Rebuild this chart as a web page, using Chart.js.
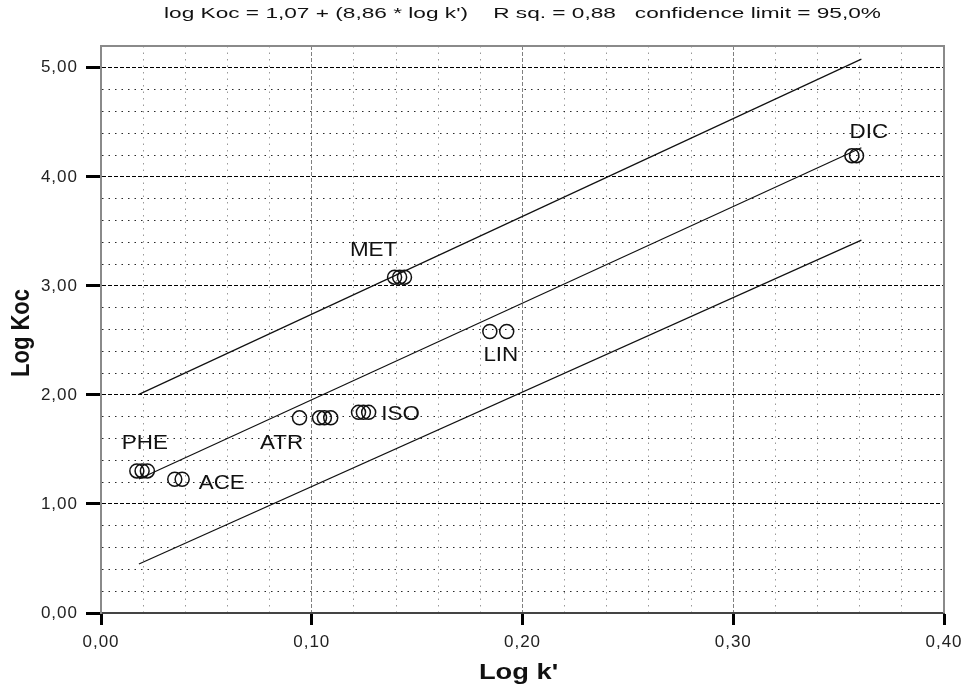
<!DOCTYPE html>
<html><head><meta charset="utf-8">
<script src="https://cdn.jsdelivr.net/npm/chart.js@4/dist/chart.umd.min.js"></script>
<style>html,body{margin:0;padding:0;background:#fff;}#wrap{width:962px;height:686px;position:relative;}</style>
</head><body><div id="wrap"><canvas id="c" width="962" height="686"></canvas></div>
<script>
// ---- data ----
const titleText = "log Koc = 1,07 + (8,86 * log k')    R sq. = 0,88   confidence limit = 95,0%";
const xAxisTitle = "Log k'";
const yAxisTitle = "Log Koc";
const compounds = ['PHE', 'ACE', 'ATR', 'ISO', 'MET', 'LIN', 'DIC'];
const pointGroup = ['PHE','PHE','PHE','ACE','ACE','ATR','ATR','ATR','ATR','ISO','ISO','ISO','MET','MET','MET','LIN','LIN','DIC','DIC'];
const logK   = [0.0170,0.0195,0.0220, 0.0350,0.0385, 0.0942,0.1037,0.1060,0.1090, 0.1222,0.1245,0.1270, 0.1393,0.1417,0.1440, 0.1845,0.1925, 0.3563,0.3585];
const logKoc = [1.303,1.303,1.303, 1.227,1.227, 1.790,1.790,1.790,1.790, 1.840,1.840,1.840, 3.080,3.080,3.080, 2.582,2.582, 4.194,4.194];
const lineX  = [0.018, 0.3608];
const fitY   = [1.229, 4.267];
const upperY = [2.005, 5.080];
const lowerY = [0.449, 3.420];
const xMajorTicks = [0, 0.1, 0.2, 0.3, 0.4];
const yMajorTicks = [0, 1, 2, 3, 4, 5];
</script>
<script>
const FONT = "'Liberation Sans', Arial, sans-serif";
const fmt = v => v.toFixed(2).replace('.', ',');
const near = (a, b) => Math.abs(a - b) < 1e-6;
const isMajorX = v => xMajorTicks.some(t => near(t, v));
const isMajorY = v => yMajorTicks.some(t => near(t, v));

const pts = logK.map((x, i) => ({x, y: logKoc[i]}));
const mkLine = ys => lineX.map((x, i) => ({x, y: ys[i]}));

// label placement (pixel offsets from first point of each group)
const labelOffsets = {PHE:[8,-27], ACE:[47,4], ATR:[-18,26], ISO:[42,2], MET:[-21,-27], LIN:[11,24], DIC:[17,-23]};

function stretchText(ctx, text, x, y, sx, rot) {
  ctx.save();
  ctx.translate(x, y);
  ctx.scale(sx, 1);
  if (rot) ctx.rotate(rot);
  ctx.fillText(text, 0, 0);
  ctx.restore();
}

const deco = {
  id: 'deco',
  beforeDraw(chart) { chart.ctx.letterSpacing = '1px'; },
  beforeDatasetsDraw(chart) {
    const {ctx, chartArea: a} = chart;
    ctx.save();
    ctx.strokeStyle = '#8a8a8a';
    ctx.lineWidth = 2;
    ctx.beginPath();
    ctx.moveTo(a.left, a.top); ctx.lineTo(a.right, a.top); ctx.lineTo(a.right, a.bottom);
    ctx.stroke();
    ctx.restore();
  },
  afterDraw(chart) {
    const {ctx, chartArea: a, scales} = chart;
    ctx.save();
    ctx.fillStyle = '#111';
    ctx.letterSpacing = '0px';
    ctx.textAlign = 'center';
    ctx.textBaseline = 'middle';
    ctx.font = '20px ' + FONT;
    compounds.forEach(c => {
      const i = pointGroup.indexOf(c);
      const px = scales.x.getPixelForValue(logK[i]);
      const py = scales.y.getPixelForValue(logKoc[i]);
      const o = labelOffsets[c];
      stretchText(ctx, c, px + o[0], py + o[1], 1.12, 0);
    });
    ctx.font = '15px ' + FONT;
    stretchText(ctx, titleText, (a.left + a.right) / 2, 14, 1.51, 0);
    ctx.font = 'bold 22px ' + FONT;
    stretchText(ctx, xAxisTitle, (a.left + a.right) / 2 - 4, 673, 1.24, 0);
    stretchText(ctx, yAxisTitle, 22, 333, 1.15, -Math.PI / 2);
    ctx.restore();
  }
};

new Chart(document.getElementById('c'), {
  type: 'scatter',
  data: {
    datasets: [
      {data: pts, showLine: false, pointStyle: 'circle', pointRadius: 7, pointHoverRadius: 7,
       borderColor: '#111', backgroundColor: 'rgba(0,0,0,0)', pointBorderWidth: 1.5, order: 0},
      {data: mkLine(fitY), showLine: true, pointRadius: 0, borderColor: '#111', borderWidth: 1.2, order: 1},
      {data: mkLine(upperY), showLine: true, pointRadius: 0, borderColor: '#111', borderWidth: 1.2, order: 1},
      {data: mkLine(lowerY), showLine: true, pointRadius: 0, borderColor: '#111', borderWidth: 1.2, order: 1}
    ]
  },
  options: {
    responsive: false,
    animation: false,
    devicePixelRatio: 1,
    layout: {padding: {top: 46, right: 18, left: 0, bottom: 0}},
    plugins: {legend: {display: false}, tooltip: {enabled: false}, title: {display: false}},
    scales: {
      x: {
        type: 'linear', min: 0, max: 0.4,
        afterFit: s => { s.height = 73; s.paddingLeft = 0; s.paddingRight = 0; },
        ticks: {stepSize: 0.02, autoSkip: false, maxRotation: 0, minRotation: 0, padding: 7,
                color: '#222', font: {family: FONT, size: 17},
                callback: v => isMajorX(v) ? fmt(v) : ''},
        grid: {
          lineWidth: 1,
          color: c => { const v = c.tick ? c.tick.value : 0; if (near(v, 0) || near(v, 0.4)) return 'rgba(0,0,0,0)'; return isMajorX(v) ? '#808080' : '#999'; },
          tickLength: 12, tickWidth: 3,
          tickColor: c => (c.tick && isMajorX(c.tick.value)) ? '#000' : 'rgba(0,0,0,0)'
        },
        border: {color: '#444', width: 2,
                 dash: c => c.tick ? (isMajorX(c.tick.value) ? [4, 2] : [1.5, 5]) : []}
      },
      y: {
        type: 'linear', min: 0, max: 5.2,
        afterFit: s => { s.width = 101; s.paddingTop = 0; s.paddingBottom = 0; },
        ticks: {stepSize: 0.2, autoSkip: false, padding: 8,
                color: '#222', font: {family: FONT, size: 17},
                callback: v => isMajorY(v) ? fmt(v) : ''},
        grid: {
          lineWidth: 1,
          color: c => { const v = c.tick ? c.tick.value : 0; if (near(v, 0) || near(v, 5.2)) return 'rgba(0,0,0,0)'; return isMajorY(v) ? '#000' : '#2a2a2a'; },
          tickLength: 15, tickWidth: 3,
          tickColor: c => (c.tick && isMajorY(c.tick.value)) ? '#000' : 'rgba(0,0,0,0)'
        },
        border: {color: '#8a8a8a', width: 2,
                 dash: c => c.tick ? (isMajorY(c.tick.value) ? [4, 2] : [1.5, 5]) : []}
      }
    }
  },
  plugins: [deco]
});
</script>
</body></html>
